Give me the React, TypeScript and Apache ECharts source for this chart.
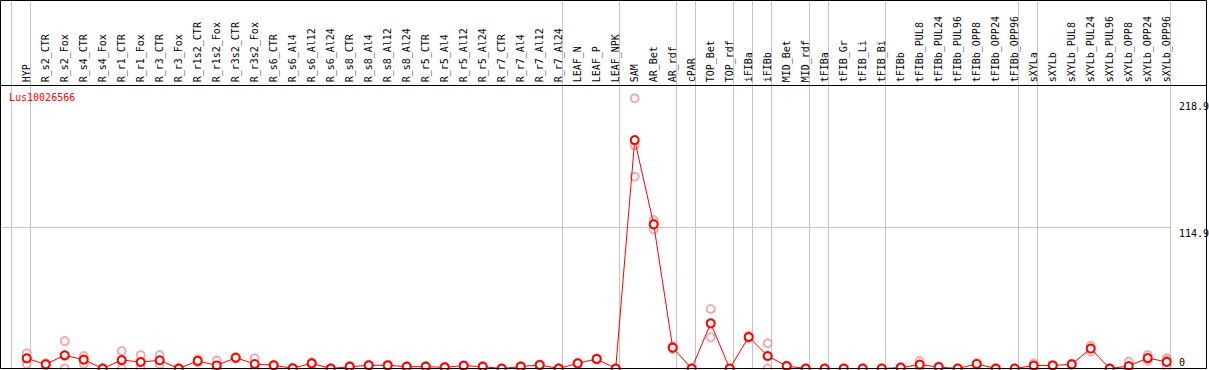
import { useEffect, useRef } from "react";
import * as echarts from "echarts";

const title = "Lus10026566";

const categories = [
  "HYP",
  "R_s2_CTR", "R_s2_Fox", "R_s4_CTR", "R_s4_Fox", "R_r1_CTR", "R_r1_Fox", "R_r3_CTR", "R_r3_Fox",
  "R_r1s2_CTR", "R_r1s2_Fox", "R_r3s2_CTR", "R_r3s2_Fox",
  "R_s6_CTR", "R_s6_Al4", "R_s6_Al12", "R_s6_Al24",
  "R_s8_CTR", "R_s8_Al4", "R_s8_Al12", "R_s8_Al24",
  "R_r5_CTR", "R_r5_Al4", "R_r5_Al12", "R_r5_Al24",
  "R_r7_CTR", "R_r7_Al4", "R_r7_Al12", "R_r7_Al24",
  "LEAF_N", "LEAF_P", "LEAF_NPK",
  "SAM", "AR_Bet", "AR_rdf", "cPAR", "TOP_Bet", "TOP_rdf", "iFIBa", "iFIBb", "MID_Bet", "MID_rdf",
  "tFIBa", "tFIB_Gr", "tFIB_Li", "tFIB_Bi",
  "tFIBb", "tFIBb_PUL8", "tFIBb_PUL24", "tFIBb_PUL96", "tFIBb_OPP8", "tFIBb_OPP24", "tFIBb_OPP96",
  "sXYLa", "sXYLb", "sXYLb_PUL8", "sXYLb_PUL24", "sXYLb_PUL96", "sXYLb_OPP8", "sXYLb_OPP24", "sXYLb_OPP96",
];

const meanValues = [
  8.3,
  3.4, 10.8, 7.2, 0, 6.9, 5.3, 6.7, 0,
  6.2, 2.5, 8.8, 3.7,
  2.6, 0.2, 4.2, 0,
  1.5, 2.6, 2.6, 1.5,
  1.5, 1.0, 2.3, 1.5,
  0, 1.5, 2.9, 0,
  4.2, 7.8, 0,
  186.5, 117.7, 17.0, 0, 36.9, 0, 25.7, 10.2, 2.0, 0,
  0, 0, 0, 0,
  0.7, 3.2, 1.2, 0, 3.7, 0, 0,
  2.4, 2.5, 3.4, 16.3, 0, 2.0, 8.5, 5.4,
];

const rep1 = [
  12.4,
  4.2, 22.4, 10.2, 0, 14.3, 11.0, 11.0, 0,
  7.5, 6.4, 9.6, 8.3,
  3.0, 0.6, 5.0, 0,
  1.9, 3.0, 3.1, 1.8,
  1.9, 1.3, 2.8, 1.8,
  0, 1.9, 3.3, 0,
  4.6, 8.3, 0,
  220.6, 121.2, 18.0, 0, 48.6, 0, 26.9, 20.6, 2.5, 0,
  0, 0, 0, 0,
  1.0, 6.1, 1.6, 0, 4.4, 0, 0,
  4.2, 3.0, 3.8, 18.6, 0, 5.6, 11.0, 8.3,
];

const rep2 = [
  8.6,
  3.4, 10.0, 7.5, 0, 6.4, 5.0, 5.7, 0,
  6.2, 1.1, 8.8, 2.8,
  2.6, 0, 4.2, 0,
  1.5, 2.6, 2.5, 1.5,
  1.4, 1.0, 2.2, 1.5,
  0, 1.5, 2.9, 0,
  4.2, 7.8, 0,
  182.2, 118.3, 17.0, 0, 36.7, 0, 25.7, 10.0, 2.0, 0,
  0, 0, 0, 0,
  0.7, 2.5, 1.2, 0, 3.7, 0, 0,
  2.0, 2.5, 3.4, 16.3, 0, 0.4, 8.1, 6.6,
];

const rep3 = [
  3.8,
  2.6, 0, 3.9, 0, 0, 0, 3.4, 0,
  4.9, 0, 8.0, 0,
  2.2, 0, 3.4, 0,
  1.1, 2.2, 2.2, 1.2,
  1.2, 0.7, 1.9, 1.2,
  0, 1.1, 2.5, 0,
  3.8, 7.3, 0,
  156.6, 113.6, 16.0, 0, 25.4, 0, 24.5, 0, 1.5, 0,
  0, 0, 0, 0,
  0.4, 1.0, 0.8, 0, 3.0, 0, 0,
  1.0, 2.0, 3.0, 14.0, 0, 0, 6.4, 1.3,
];

// indices of the last category of each group (a separator follows it)
const groupEnds = [-1, 0, 28, 31, 34, 35, 37, 38, 39, 41, 42, 45, 52, 53, 60];
const yTickLabels = [0, 114.9, 218.9];
const yGridValues = [114.9];

const FONT = "'DejaVu Sans Mono', monospace";
const RED = "#ff0000";
const REP = "#ee9999";

export default function App() {
  const ref = useRef<HTMLDivElement>(null);

  useEffect(() => {
    if (!ref.current) return;
    const chart = echarts.init(ref.current, null, { renderer: "svg" });

    const repSeries = [rep1, rep2, rep3].map((r) => ({
      type: "scatter",
      data: r,
      symbol: "emptyCircle",
      symbolSize: 8,
      itemStyle: { color: REP, borderColor: REP, borderWidth: 1.3 },
      z: 2,
      silent: true,
      clip: false,
    }));

    chart.setOption({
      animation: false,
      backgroundColor: "#ffffff",
      title: {
        text: title,
        left: 9,
        top: 92,
        padding: 0,
        textStyle: { color: RED, fontSize: 10, fontWeight: "normal", fontFamily: FONT },
      },
      grid: { left: 17.2, right: 32.8, top: 85.3, bottom: 1.5, containLabel: false },
      xAxis: {
        type: "category",
        position: "top",
        data: categories,
        boundaryGap: true,
        axisLine: { show: false },
        axisTick: { show: false },
        splitLine: { show: false },
        axisLabel: {
          interval: 0,
          rotate: 90,
          margin: 3,
          fontSize: 10,
          fontFamily: FONT,
          color: "#000",
          padding: [0, 0, 5, 0],
        },
      },
      yAxis: {
        type: "value",
        min: 0,
        max: 231.2,
        axisLine: { show: false },
        axisTick: { show: false },
        axisLabel: { show: false },
        splitLine: { show: false },
      },
      series: [
        ...repSeries,
        {
          type: "line",
          data: meanValues,
          symbol: "emptyCircle",
          symbolSize: 8,
          showAllSymbol: true,
          lineStyle: { color: RED, width: 1 },
          itemStyle: { color: RED, borderColor: RED, borderWidth: 1.5 },
          z: 3,
          clip: false,
          silent: true,
        },
      ],
    });

    const cx = (i: number) => chart.convertToPixel({ xAxisIndex: 0 }, categories[i]) as number;
    const band = cx(1) - cx(0);
    const cy = (v: number) => chart.convertToPixel({ yAxisIndex: 0 }, v) as number;
    const crisp = (v: number) => Math.floor(v) + 0.5;

    const boundaryX = (k: number) => cx(0) + k * band + band / 2 - 5.5;
    const rightEdge = boundaryX(categories.length - 1);

    const graphics: any[] = [];
    groupEnds.forEach((k) => {
      const x = crisp(boundaryX(k));
      graphics.push({
        type: "line",
        shape: { x1: x, y1: 0.5, x2: x, y2: 368.5 },
        style: { stroke: "#c4c4c4", lineWidth: 1 },
        z: 0,
        silent: true,
      });
    });
    yGridValues.forEach((v) => {
      const y = crisp(cy(v));
      graphics.push({
        type: "line",
        shape: { x1: 0.5, y1: y, x2: crisp(rightEdge), y2: y },
        style: { stroke: "#c4c4c4", lineWidth: 1 },
        z: 0,
        silent: true,
      });
    });
    yTickLabels.forEach((v) => {
      const y = cy(v);
      const isZero = v === 0;
      graphics.push({
        type: "text",
        x: 1179,
        y: isZero ? y - 1.5 : y + 1,
        style: {
          text: String(v),
          fill: "#000",
          font: `10px ${FONT}`,
          textAlign: "left",
          textVerticalAlign: isZero ? "bottom" : "top",
          verticalAlign: isZero ? "bottom" : "top",
        },
        z: 5,
        silent: true,
      });
    });
    // frame and header separator
    graphics.push({
      type: "rect",
      shape: { x: 0.5, y: 0.5, width: 1206, height: 368 },
      style: { fill: "none", stroke: "#000", lineWidth: 1 },
      z: 10,
      silent: true,
    });
    graphics.push({
      type: "line",
      shape: { x1: 0.5, y1: 85.5, x2: 1206.5, y2: 85.5 },
      style: { stroke: "#000", lineWidth: 1 },
      z: 10,
      silent: true,
    });

    chart.setOption({ graphic: graphics });

    return () => chart.dispose();
  }, []);

  return (
    <div
      ref={ref}
      style={{ position: "fixed", left: 0, top: 0, width: 1209, height: 370, background: "#fff" }}
    />
  );
}
